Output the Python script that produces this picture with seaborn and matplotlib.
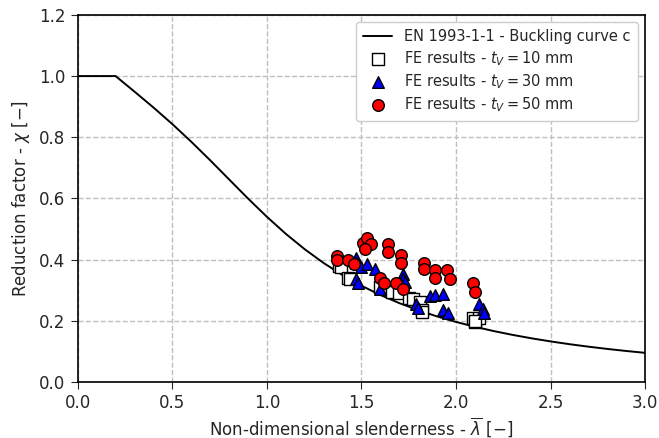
import numpy as np
import pandas as pd
import seaborn as sns
import matplotlib
matplotlib.use("Agg")
import matplotlib.pyplot as plt

curve_lam = [0.0, 0.2, 0.3, 0.4, 0.5, 0.6, 0.7, 0.8, 0.9, 1.0, 1.1, 1.2, 1.3, 1.4, 1.5,
             1.6, 1.7, 1.8, 1.9, 2.0, 2.1, 2.2, 2.3, 2.4, 2.5, 2.6, 2.7, 2.8, 2.9, 3.0]
curve_chi = [1.0, 1.0, 0.9491, 0.8973, 0.8430, 0.7854, 0.7247, 0.6622, 0.5998, 0.5399,
             0.4842, 0.4338, 0.3888, 0.3492, 0.3145, 0.2842, 0.2577, 0.2345, 0.2141,
             0.1962, 0.1803, 0.1662, 0.1537, 0.1425, 0.1325, 0.1234, 0.1153, 0.1079,
             0.1012, 0.0951]

# FE results, t_V = 10 mm
lam_10 = [1.38, 1.39, 1.43, 1.44, 1.60, 1.66, 1.70, 1.75, 1.77, 1.81, 1.82, 1.82,
          2.09, 2.10, 2.12, 2.10]
chi_10 = [0.38, 0.375, 0.34, 0.335, 0.31, 0.295, 0.29, 0.275, 0.27, 0.26, 0.235, 0.23,
          0.21, 0.195, 0.21, 0.20]

# FE results, t_V = 30 mm
lam_30 = [1.47, 1.47, 1.50, 1.53, 1.57, 1.47, 1.48, 1.60, 1.72, 1.72, 1.73, 1.79, 1.80,
          1.86, 1.89, 1.93, 1.93, 1.96, 2.12, 2.14, 2.15]
chi_30 = [0.405, 0.39, 0.375, 0.385, 0.37, 0.338, 0.325, 0.305, 0.352, 0.338, 0.327,
          0.254, 0.243, 0.28, 0.284, 0.287, 0.236, 0.225, 0.254, 0.238, 0.225]

# FE results, t_V = 50 mm
lam_50 = [1.37, 1.37, 1.43, 1.46, 1.51, 1.53, 1.55, 1.52, 1.60, 1.62, 1.64, 1.64, 1.68,
          1.71, 1.71, 1.72, 1.83, 1.83, 1.89, 1.89, 1.95, 1.97, 2.09, 2.10]
chi_50 = [0.412, 0.40, 0.40, 0.385, 0.455, 0.47, 0.45, 0.435, 0.34, 0.325, 0.45, 0.425,
          0.325, 0.415, 0.39, 0.305, 0.39, 0.368, 0.365, 0.34, 0.365, 0.335, 0.325, 0.294]

sns.set_style("ticks")
plt.rcParams["font.family"] = ["DejaVu Sans"]
plt.rcParams["mathtext.fontset"] = "dejavusans"

fig = plt.figure(figsize=(6.59, 4.38), dpi=100)
ax = fig.add_axes([0.118, 0.128, 0.861, 0.838])

sns.lineplot(x=curve_lam, y=curve_chi, color="black", linewidth=1.4, ax=ax,
             label="EN 1993-1-1 - Buckling curve c")
sns.scatterplot(x=lam_10, y=chi_10, marker="s", s=70, color="white", edgecolor="black",
                linewidth=1.0, ax=ax, label=r"FE results - $t_V = 10$ mm", zorder=3)
sns.scatterplot(x=lam_30, y=chi_30, marker="^", s=70, color="blue", edgecolor="black",
                linewidth=1.0, ax=ax, label=r"FE results - $t_V = 30$ mm", zorder=3)
sns.scatterplot(x=lam_50, y=chi_50, marker="o", s=70, color="red", edgecolor="black",
                linewidth=1.0, ax=ax, label=r"FE results - $t_V = 50$ mm", zorder=3)

ax.set_xlim(0, 3.0)
ax.set_ylim(0, 1.2)
ax.set_xticks(np.arange(0, 3.01, 0.5))
ax.set_yticks(np.arange(0, 1.21, 0.2))
ax.xaxis.set_major_formatter(matplotlib.ticker.FormatStrFormatter("%.1f"))
ax.yaxis.set_major_formatter(matplotlib.ticker.FormatStrFormatter("%.1f"))
ax.tick_params(labelsize=12, direction="out", length=5, pad=4)
ax.grid(True, linestyle="--", color="#c0c0c0", linewidth=1.0)
ax.set_axisbelow(True)
for sp in ax.spines.values():
    sp.set_visible(True)
    sp.set_color("black")
    sp.set_linewidth(1.2)

ax.set_xlabel(r"Non-dimensional slenderness - $\overline{\lambda}$ [$-$]", fontsize=12,
              labelpad=2)
ax.set_ylabel(r"Reduction factor - $\chi$ [$-$]", fontsize=12, labelpad=5)

ax.legend(loc="upper right", fontsize=10.5, frameon=True, framealpha=1.0,
          edgecolor="#cccccc", handlelength=2.0, borderpad=0.5, labelspacing=0.3)

fig.savefig("out.png", dpi=100)
